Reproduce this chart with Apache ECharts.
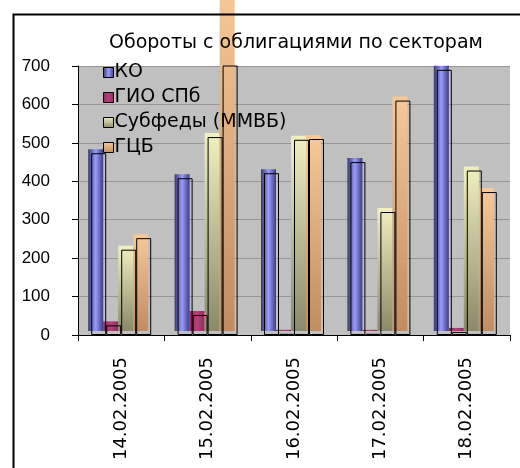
<!DOCTYPE html>
<html>
<head>
<meta charset="utf-8">
<script src="https://cdn.jsdelivr.net/npm/echarts@6/dist/echarts.min.js"></script>
<style>
  html, body { margin: 0; padding: 0; background: #fff; }
  #chart { width: 520px; height: 468px; }
</style>
</head>
<body>
<div id="chart"></div>
<script>
const chartTitle = 'Обороты с облигациями по секторам';
const categories = ['14.02.2005', '15.02.2005', '16.02.2005', '17.02.2005', '18.02.2005'];
const seriesNames = ['КО', 'ГИО СПб', 'Субфеды (ММВБ)', 'ГЦБ'];
const koValues = [473, 408, 421, 450, 690];
const gioValues = [25, 52, 3, 3, 8];
const subfedValues = [222, 515, 508, 320, 428];
const gcbValues = [252, 900, 510, 610, 372];
const yMin = 0, yMax = 700, yStep = 100;

const seriesValues = [koValues, gioValues, subfedValues, gcbValues];
const fills = [
  new echarts.graphic.LinearGradient(0, 0, 1, 0, [
    { offset: 0, color: '#38386e' }, { offset: 0.5, color: '#9a9aff' }, { offset: 1, color: '#3c3c80' }
  ]),
  new echarts.graphic.LinearGradient(0, 0, 1, 0, [
    { offset: 0, color: '#8a2c5c' }, { offset: 0.5, color: '#b8407a' }, { offset: 1, color: '#8a2c5c' }
  ]),
  new echarts.graphic.LinearGradient(0, 0, 0, 1, [
    { offset: 0, color: '#f0f0c0' }, { offset: 1, color: '#8a8a6a' }
  ]),
  new echarts.graphic.LinearGradient(0, 0, 0, 1, [
    { offset: 0, color: '#f8c898' }, { offset: 1, color: '#c08c60' }
  ])
];

const chart = echarts.init(document.getElementById('chart'), null, { renderer: 'canvas' });

const fillSeries = seriesNames.map((name, i) => ({
  name: name,
  type: 'bar',
  xAxisIndex: 1,
  yAxisIndex: 1,
  data: seriesValues[i],
  barWidth: 15,
  barGap: '0%',
  clip: false,
  z: 2,
  itemStyle: { color: fills[i] },
  emphasis: { disabled: true }
}));

const outlineSeries = seriesNames.map((name, i) => ({
  name: 'outline ' + name,
  type: 'bar',
  xAxisIndex: 0,
  yAxisIndex: 0,
  data: seriesValues[i],
  barWidth: 15,
  barGap: '0%',
  clip: true,
  z: 3,
  itemStyle: { color: 'rgba(0,0,0,0)', borderColor: '#000', borderWidth: 1 },
  emphasis: { disabled: true }
}));

const option = {
  animation: false,
  backgroundColor: '#fff',
  title: {
    text: chartTitle,
    left: 104,
    top: 29,
    textStyle: { fontFamily: 'DejaVu Sans', fontSize: 19, fontWeight: 'normal', color: '#000' }
  },
  legend: {
    data: seriesNames,
    orient: 'vertical',
    left: 98,
    top: 58,
    itemWidth: 10,
    itemHeight: 10,
    itemGap: 6,
    icon: 'rect',
    itemStyle: { borderColor: '#000', borderWidth: 1 },
    textStyle: { fontFamily: 'DejaVu Sans', fontSize: 19, color: '#000', padding: [0, 0, 0, -4], lineHeight: 19 }
  },
  grid: [
    { left: 78, right: 10, top: 66, bottom: 133, show: true, backgroundColor: '#c0c0c0', borderWidth: 0 },
    { left: 75, right: 13, top: 62, bottom: 137, show: false }
  ],
  xAxis: [
    {
      type: 'category', gridIndex: 0, data: categories, boundaryGap: true,
      axisLine: { show: true, lineStyle: { color: '#000', width: 1 } },
      axisTick: { show: true, inside: false, length: 6, alignWithLabel: false, lineStyle: { color: '#000' } },
      axisLabel: { rotate: 90, margin: 22, fontFamily: 'DejaVu Sans', fontSize: 18, color: '#000' },
      splitLine: { show: false }
    },
    {
      type: 'category', gridIndex: 1, data: categories, boundaryGap: true, show: false
    }
  ],
  yAxis: [
    {
      type: 'value', gridIndex: 0, min: yMin, max: yMax, interval: yStep,
      axisLine: { show: true, lineStyle: { color: '#000', width: 1 } },
      axisTick: { show: true, inside: false, length: 6, lineStyle: { color: '#000' } },
      axisLabel: { margin: 28, fontFamily: 'Liberation Sans', fontSize: 17, color: '#000' },
      splitLine: { show: true, lineStyle: { color: '#969696', width: 1 } }
    },
    {
      type: 'value', gridIndex: 1, min: yMin, max: yMax, interval: yStep, show: false,
      splitLine: { show: false }
    }
  ],
  graphic: [
    {
      type: 'rect', left: 11, top: 12, z: 100, silent: true,
      shape: { x: 0, y: 0, width: 600, height: 600 },
      style: { fill: 'none', stroke: '#000', lineWidth: 2 }
    }
  ],
  series: fillSeries.concat(outlineSeries)
};

chart.setOption(option);
</script>
</body>
</html>
